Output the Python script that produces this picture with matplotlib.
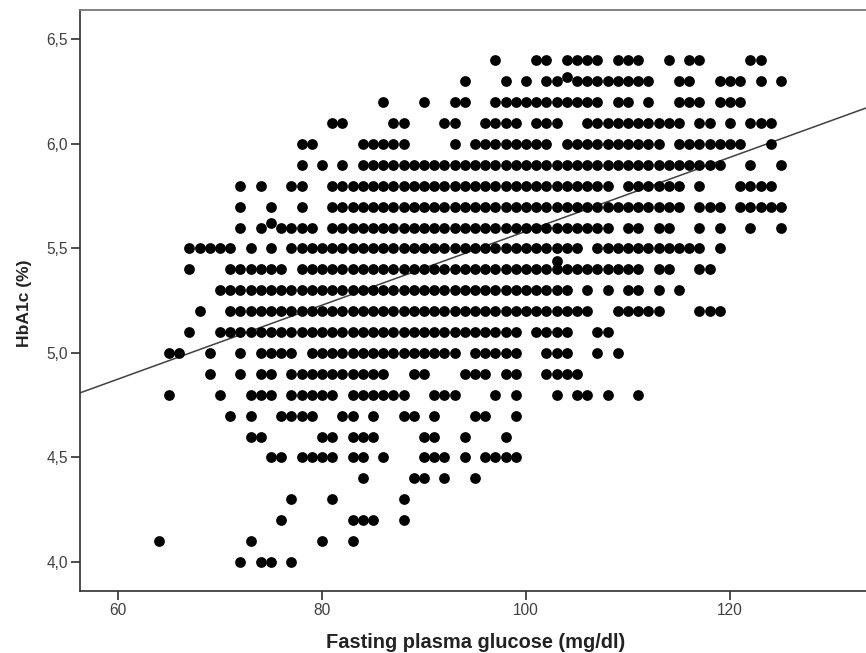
import matplotlib
matplotlib.use("Agg")
import matplotlib.pyplot as plt

glucose_40 = [72, 74, 75, 77]
glucose_41 = [64, 73, 80, 83]
glucose_42 = [76, 83, 84, 85, 88]
glucose_43 = [77, 81, 88]
glucose_44 = [84, 89, 90, 92, 95]
glucose_45 = [75, 76, 78, 79, 80, 81, 83, 84, 86, 90, 91, 92, 94, 96, 97, 98, 99]
glucose_46 = [73, 74, 80, 81, 83, 84, 85, 90, 91, 94, 98]
glucose_47 = [71, 73, 76, 77, 78, 79, 82, 83, 85, 88, 89, 91, 95, 96, 99]
glucose_48 = [65, 70, 73, 74, 75, 77, 78, 79, 80, 81, 83, 84, 85, 86, 87, 88, 91, 92, 93, 97, 99, 103, 105, 106, 108, 111]
glucose_49 = [69, 72, 74, 75, 77, 78, 79, 80, 81, 82, 83, 84, 85, 86, 89, 90, 94, 95, 96, 98, 99, 102, 103, 104, 105]
glucose_50 = [65, 66, 69, 72, 74, 75, 76, 77, 79, 80, 81, 82, 83, 84, 85, 86, 87, 88, 89, 90, 91, 92, 93, 95, 96, 97, 98, 99, 102, 103, 104, 107, 109]
glucose_51 = [67, 70, 71, 72, 73, 74, 75, 76, 77, 78, 79, 80, 81, 82, 83, 84, 85, 86, 87, 88, 89, 90, 91, 92, 93, 94, 95, 96, 97, 98, 99, 101, 102, 103, 104, 107, 108]
glucose_52 = [68, 71, 72, 73, 74, 75, 76, 77, 78, 79, 80, 81, 82, 83, 84, 85, 86, 87, 88, 89, 90, 91, 92, 93, 94, 95, 96, 97, 98, 99, 100, 101, 102, 103, 104, 105, 106, 109, 110, 111, 112, 113, 117, 118, 119]
glucose_53 = [70, 71, 72, 73, 74, 75, 76, 77, 78, 79, 80, 81, 82, 83, 84, 85, 86, 87, 88, 89, 90, 91, 92, 93, 94, 95, 96, 97, 98, 99, 100, 101, 102, 103, 104, 106, 108, 110, 111, 113, 115]
glucose_54 = [67, 71, 72, 73, 74, 75, 76, 78, 79, 80, 81, 82, 83, 84, 85, 86, 87, 88, 89, 90, 91, 92, 93, 94, 95, 96, 97, 98, 99, 100, 101, 102, 103, 104, 105, 106, 107, 108, 109, 110, 111, 113, 114, 117, 118]
glucose_55 = [67, 68, 69, 70, 71, 73, 75, 77, 78, 79, 80, 81, 82, 83, 84, 85, 86, 87, 88, 89, 90, 91, 92, 93, 94, 95, 96, 97, 98, 99, 100, 101, 102, 103, 104, 105, 107, 108, 109, 110, 111, 112, 113, 114, 115, 116, 117, 119]
glucose_56 = [72, 74, 76, 77, 78, 79, 81, 82, 83, 84, 85, 86, 87, 88, 89, 90, 91, 92, 93, 94, 95, 96, 97, 98, 99, 100, 101, 102, 103, 104, 105, 106, 107, 108, 110, 111, 113, 114, 117, 119, 122, 125]
glucose_57 = [72, 75, 78, 81, 82, 83, 84, 85, 86, 87, 88, 89, 90, 91, 92, 93, 94, 95, 96, 97, 98, 99, 100, 101, 102, 103, 104, 105, 106, 107, 108, 109, 110, 111, 112, 113, 114, 115, 117, 118, 119, 121, 122, 123, 124, 125]
glucose_58 = [72, 74, 77, 78, 81, 82, 83, 84, 85, 86, 87, 88, 89, 90, 91, 92, 93, 94, 95, 96, 97, 98, 99, 100, 101, 102, 103, 104, 105, 106, 107, 108, 110, 111, 112, 113, 114, 115, 117, 121, 122, 123, 124]
glucose_59 = [78, 80, 82, 84, 85, 86, 87, 88, 89, 90, 91, 92, 93, 94, 95, 96, 97, 98, 99, 100, 101, 102, 103, 104, 105, 106, 107, 108, 109, 110, 111, 112, 113, 114, 115, 116, 117, 118, 119, 122, 125]
glucose_60 = [78, 79, 84, 85, 86, 87, 88, 93, 95, 96, 97, 98, 99, 100, 101, 102, 104, 105, 106, 107, 108, 109, 110, 111, 112, 113, 115, 116, 117, 118, 119, 120, 121, 124]
glucose_61 = [81, 82, 87, 88, 92, 93, 96, 97, 98, 99, 101, 102, 103, 106, 107, 108, 109, 110, 111, 112, 113, 114, 115, 117, 118, 120, 122, 123, 124]
glucose_62 = [86, 90, 93, 94, 97, 98, 99, 100, 101, 102, 103, 104, 105, 106, 107, 109, 110, 112, 115, 116, 117, 119, 120, 121]
glucose_63 = [94, 98, 100, 102, 103, 105, 106, 107, 108, 109, 110, 111, 112, 115, 116, 119, 120, 121, 123, 125]
glucose_64 = [97, 101, 102, 104, 105, 106, 107, 109, 110, 111, 114, 116, 117, 122, 123]

levels = [4.0, 4.1, 4.2, 4.3, 4.4, 4.5, 4.6, 4.7, 4.8, 4.9, 5.0, 5.1, 5.2, 5.3, 5.4, 5.5, 5.6, 5.7, 5.8, 5.9, 6.0, 6.1, 6.2, 6.3, 6.4]
rows = [glucose_40, glucose_41, glucose_42, glucose_43, glucose_44, glucose_45, glucose_46, glucose_47, glucose_48,
        glucose_49, glucose_50, glucose_51, glucose_52, glucose_53, glucose_54, glucose_55, glucose_56, glucose_57,
        glucose_58, glucose_59, glucose_60, glucose_61, glucose_62, glucose_63, glucose_64]

extra_glucose = [75, 103, 104]
extra_hba1c = [5.62, 5.44, 6.32]

fit_x = [56.27, 133.33]
fit_y = [4.809, 6.172]

x_ticks = [60, 80, 100, 120]
y_ticks = [4.0, 4.5, 5.0, 5.5, 6.0, 6.5]
y_tick_labels = ["4,0", "4,5", "5,0", "5,5", "6,0", "6,5"]

plt.rcParams["font.family"] = ["Liberation Sans", "DejaVu Sans"]

W, H = 866, 653
fig = plt.figure(figsize=(W / 100, H / 100), dpi=100, facecolor="white")
ax = fig.add_axes([80 / W, (H - 591) / H, (W - 80) / W, (591 - 10) / H])
ax.set_xlim(56.27, 133.33)
ax.set_ylim(3.861, 6.641)

xs, ys = [], []
for level, row in zip(levels, rows):
    xs.extend(row)
    ys.extend([level] * len(row))
xs.extend(extra_glucose)
ys.extend(extra_hba1c)

ax.plot(fit_x, fit_y, color="#404040", lw=1.1, zorder=1)
ax.scatter(xs, ys, s=60, color="black", linewidths=0, zorder=2, clip_on=True)

ax.spines["right"].set_visible(False)
ax.spines["top"].set_color("#777777")
ax.spines["top"].set_linewidth(1.3)
for side in ("left", "bottom"):
    ax.spines[side].set_color("#303030")
    ax.spines[side].set_linewidth(1.2)

ax.set_xticks(x_ticks)
ax.set_yticks(y_ticks)
ax.set_yticklabels(y_tick_labels)
ax.tick_params(axis="both", length=6.5, width=1.2, color="#303030",
               labelcolor="#404040", labelsize=11.2, pad=2)

fig.text(476 / W, 1 - 642 / H, "Fasting plasma glucose (mg/dl)", ha="center", va="center",
         fontsize=14.4, fontweight="bold", color="#222222")
fig.text(25 / W, 1 - 303 / H, "HbA1c (%)", ha="center", va="center", rotation=90,
         fontsize=12.6, fontweight="bold", color="#222222")

fig.savefig("out.png", dpi=100)
